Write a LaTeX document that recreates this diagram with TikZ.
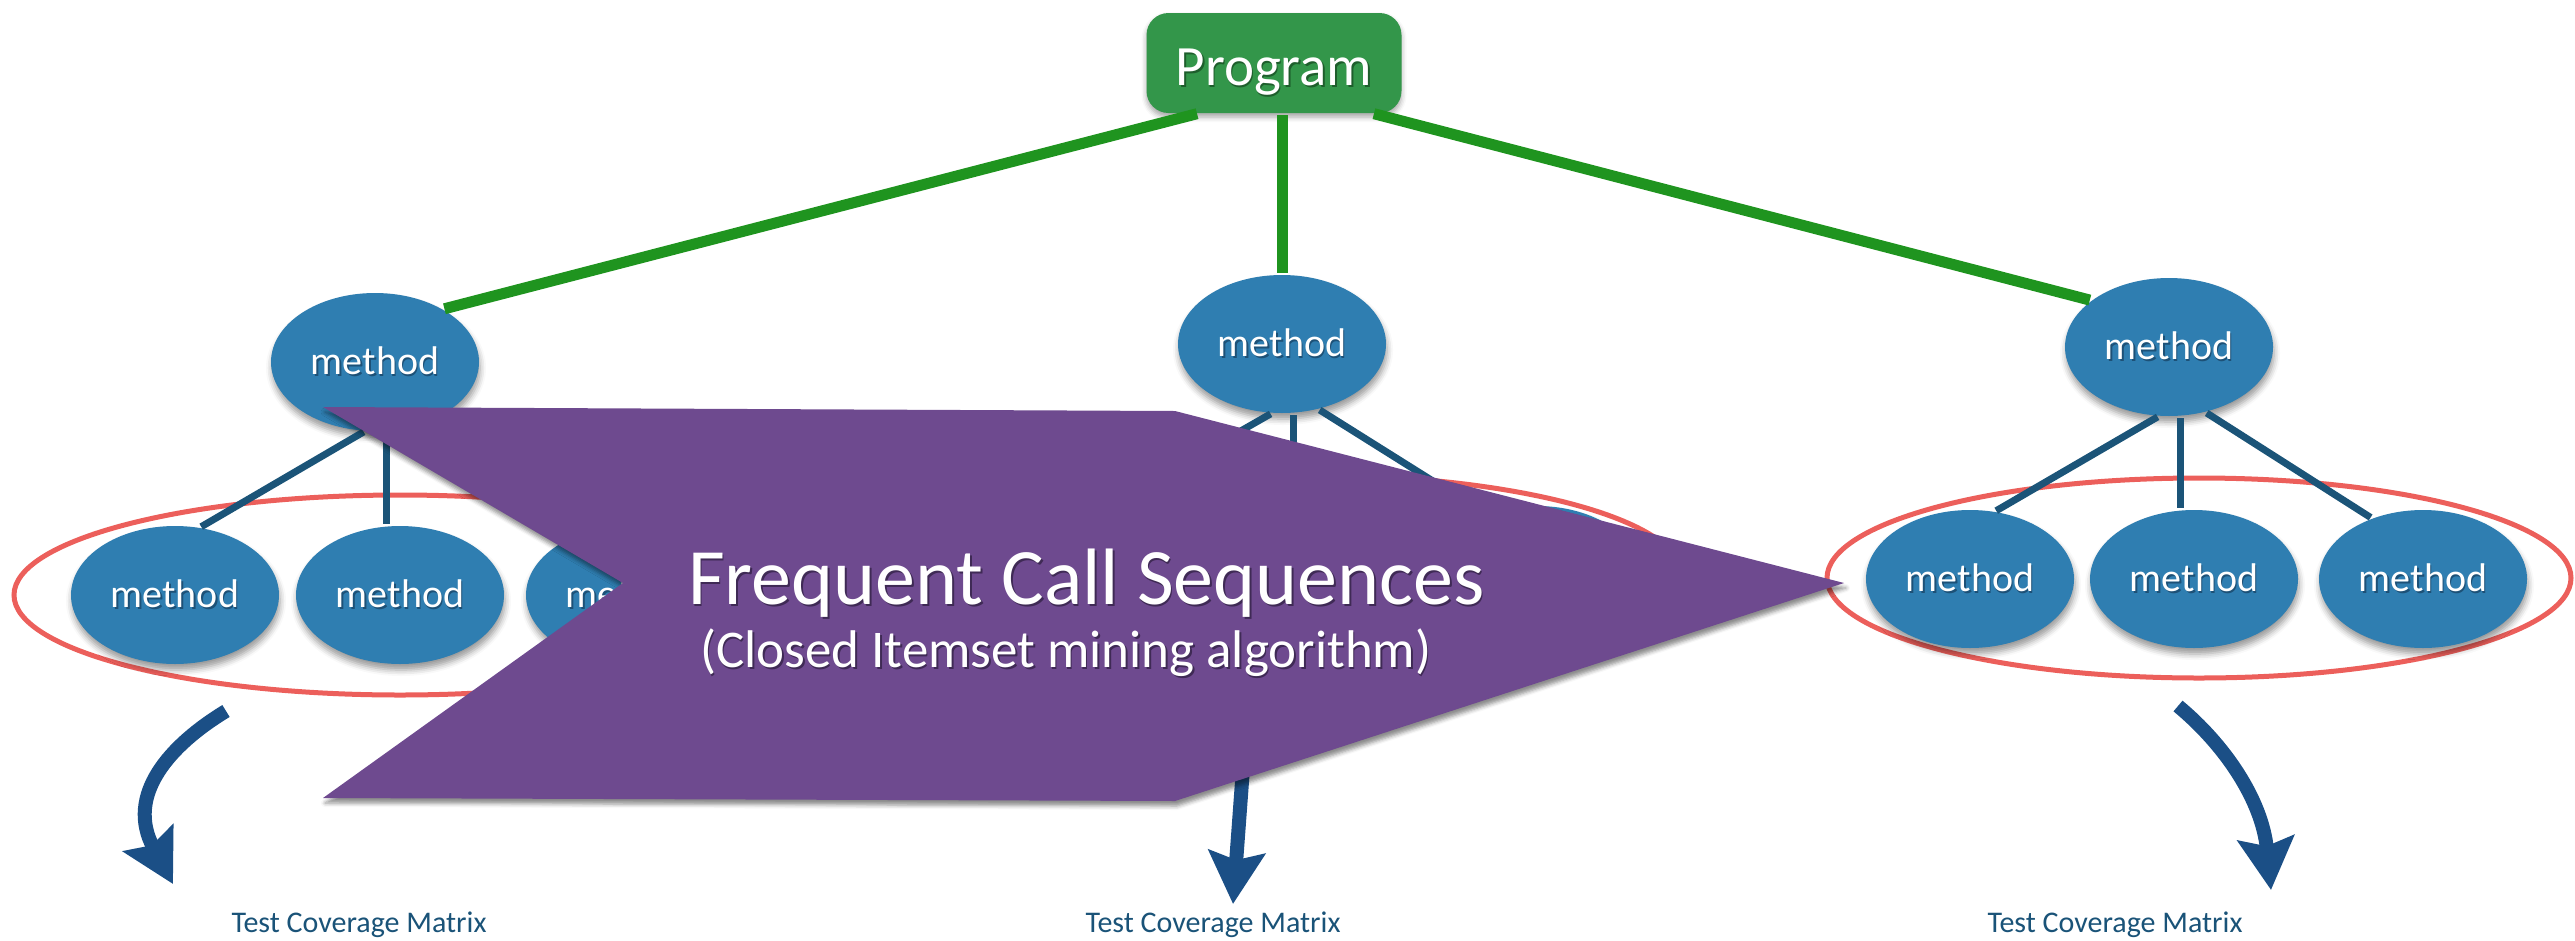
\documentclass[tikz,border=0pt]{standalone}
\usepackage{fontspec}
\setmainfont{Carlito}
\usetikzlibrary{shapes.geometric,arrows.meta,shadows.blur,calc}

\definecolor{nodeblue}{HTML}{2F7EB1}
\definecolor{nodeshade}{HTML}{1D5177}
\definecolor{edgeblue}{HTML}{1B5478}
\definecolor{treegreen}{HTML}{1F941F}
\definecolor{progfill}{HTML}{33964A}
\definecolor{progshade}{HTML}{1E5E2C}
\definecolor{ringred}{HTML}{EC5F5B}
\definecolor{chevpurple}{HTML}{6E4A8F}
\definecolor{chevshade}{HTML}{3F2A55}
\definecolor{arrowblue}{HTML}{1B4F86}
\definecolor{labelblue}{HTML}{1A5378}

% white text with a soft offset shadow underneath
\newcommand\shadowed[2]{\makebox[0pt][l]{\kern1.6pt\raisebox{-2pt}{\textcolor{#1}{#2}}}#2}

\begin{document}
\begin{tikzpicture}[x=1pt,y=-1pt,
  methodnode/.style={ellipse, fill=nodeblue, text=white, inner sep=0pt,
    minimum width=208pt, minimum height=138pt,
    font=\fontsize{40}{40}\selectfont,
    blur shadow={shadow xshift=1pt, shadow yshift=-6pt, shadow blur radius=6pt, shadow opacity=40}},
  prognode/.style={rectangle, rounded corners=22pt, fill=progfill, text=white,
    minimum width=255pt, minimum height=100pt, inner sep=0pt,
    text height=44pt, text depth=0pt,
    font=\fontsize{57}{57}\selectfont,
    blur shadow={shadow xshift=0pt, shadow yshift=-4pt, shadow blur radius=5pt, shadow opacity=35}},
  ring/.style={ellipse, draw=ringred, line width=5pt, inner sep=0pt, minimum height=200pt},
  treeline/.style={draw=treegreen, line width=11pt, shorten <=2pt, shorten >=2pt},
  subline/.style={draw=edgeblue, line width=7pt, shorten <=2pt, shorten >=2pt},
  flowarrow/.style={draw=arrowblue, line width=14pt,
    -{Stealth[length=52pt, width=56pt, inset=8pt]}},
  caption/.style={anchor=base, text=labelblue, inner sep=0pt,
    font=\fontsize{30}{30}\selectfont},
  chevron/.style={fill=chevpurple,
    blur shadow={shadow xshift=2pt, shadow yshift=-5pt, shadow blur radius=4pt, shadow opacity=45}},
  bigline/.style={anchor=base west, text=white, inner sep=0pt}
]
\useasboundingbox (0,0) rectangle (2575,940);

% outlines around each group of callees
\node[ring, minimum width=772pt] (ringL) at (400,595) {};
\node[ring, minimum width=744pt] (ringM) at (1310,575) {};
\node[ring, minimum width=744pt] (ringR) at (2199,578) {};

% root
\node[prognode] (prog) at (1274,63) {\shadowed{progshade}{Program}};

% first level
\node[methodnode] (L0) at (375,362) {\shadowed{nodeshade}{method}};
\node[methodnode] (M0) at (1282,344) {\shadowed{nodeshade}{method}};
\node[methodnode] (R0) at (2169,347) {\shadowed{nodeshade}{method}};

% second level
\node[methodnode] (L1) at (175,595) {\shadowed{nodeshade}{method}};
\node[methodnode] (L2) at (400,595) {\shadowed{nodeshade}{method}};
\node[methodnode] (L3) at (630,595) {\shadowed{nodeshade}{method}};
\node[methodnode] (M1) at (1082,575) {};
\node[methodnode] (M2) at (1307,575) {};
\node[methodnode] (M3) at (1537,575) {};
\node[methodnode] (R1) at (1970,579) {\shadowed{nodeshade}{method}};
\node[methodnode] (R2) at (2194,579) {\shadowed{nodeshade}{method}};
\node[methodnode] (R3) at (2423,579) {\shadowed{nodeshade}{method}};

% program to its methods
\draw[treeline] ([xshift=-75pt]prog.south) -- (L0.38);
\draw[treeline] (prog.south -| M0.north) -- (M0.north);
\draw[treeline] ([xshift=98pt]prog.south) -- (R0.149);

% each method to its callees
\foreach \g in {L,M,R}{
  \draw[subline] (\g0.262) -- (\g1.70);
  \draw[subline] ([xshift=11pt]\g0.south) -- ([xshift=11pt]\g0.south |- \g2.north);
  \draw[subline] (\g0.299) -- (\g3.130);
}

% result arrows and their captions
\node[caption] (capL) at (359,932) {Test Coverage Matrix};
\node[caption] (capM) at (1213,932) {Test Coverage Matrix};
\node[caption] (capR) at (2115,932) {Test Coverage Matrix};
\coordinate (aLs) at (226,711);
\coordinate (aLe) at (173,884);
\coordinate (aMs) at (1248,700);
\coordinate (aMe) at (1233,904);
\coordinate (aRs) at (2178,706);
\coordinate (aRe) at (2271,890);
\draw[flowarrow] (aLs) .. controls (170,745) and (125,795) .. (aLe);
\draw[flowarrow] (aMs) -- (aMe);
\draw[flowarrow] (aRs) .. controls (2225,745) and (2262,800) .. (aRe);

% mining step
\path[chevron] (323,407) -- (1175,411) -- (1844,583) -- (1175,801)
  -- (323,798) -- (623,583) -- cycle;
\node[bigline, font=\fontsize{80}{80}\selectfont] (title) at (688,604)
  {\shadowed{chevshade}{Frequent Call Sequences}};
\node[bigline, font=\fontsize{53}{53}\selectfont] (subtitle) at (700,667)
  {\shadowed{chevshade}{(Closed Itemset mining algorithm)}};
\end{tikzpicture}
\end{document}
